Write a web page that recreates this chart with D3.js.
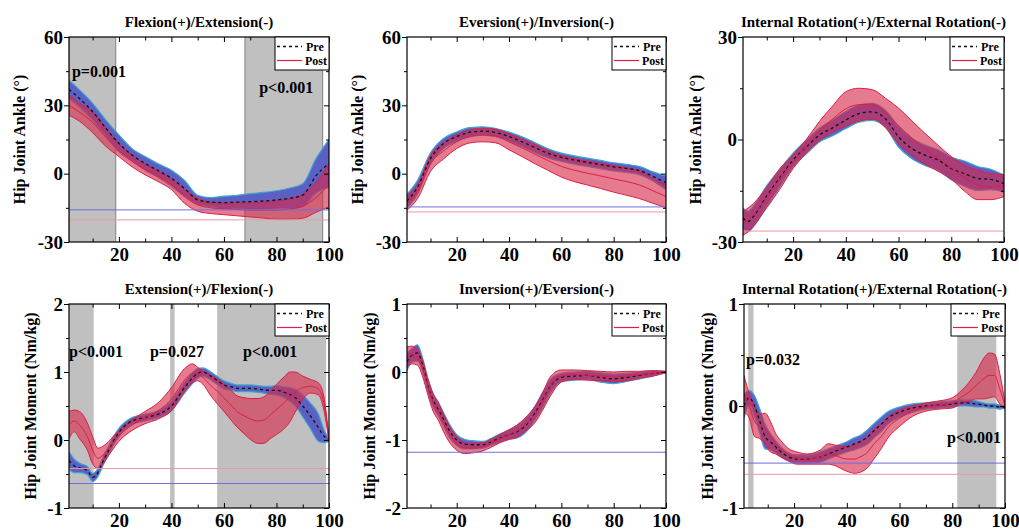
<!DOCTYPE html>
<html><head><meta charset="utf-8">
<script src="https://cdn.jsdelivr.net/npm/d3@7"></script>
<style>
body{margin:0;background:#fff}
text{font-family:"Liberation Serif","Times New Roman",serif;font-weight:bold;fill:#000}
</style>
</head><body>
<svg id="c" width="1019" height="531"></svg>
<script>
// ---------- DATA ----------
const xTickLabels = [20, 40, 60, 80, 100];
const xMinorTicks = [10, 30, 50, 70, 90];

const xsAngle = [1,5,10,15,20,25,30,35,40,45,50,55,60,65,70,75,80,85,90,95,100];

// Flexion(+)/Extension(-) angle
const flexPreMean  = [37,33,27.2,20,13.3,8.2,4.5,1.3,-2,-6.5,-11.5,-12.5,-12.7,-12.5,-12.3,-12,-11.5,-10.8,-9.4,-1,4.5];
const flexPreSd    = [4,3.8,3.7,3.6,3.7,2.8,3,3,3.5,3.5,2,2,2.8,3,3.5,3.8,4,4.5,5,7.5,10.5];
const flexPostMean = [30,27,22.5,16,10.3,5.5,1.8,-1.2,-4.7,-10,-13.7,-15,-15.5,-15.7,-16,-16,-16,-15.5,-14.3,-10.5,-5];
const flexPostSd   = [4.4,4,4.5,4,2.8,2.5,2.3,2.3,2.3,3,2.8,2.5,2.5,2.8,3,3.5,4,4.5,5.3,6.5,9.5];

// Eversion(+)/Inversion(-) angle
const evPreMean  = [-12,-6,6.7,13.3,16.3,18.2,18.7,18,16.3,14,11.4,8.9,7.2,6,5,4,3,2.3,1.3,-1.2,-4];
const evPreSd    = [3,3,2.5,2.2,2,2,1.8,1.8,2,2.2,2.2,2,1.8,1.8,1.8,1.8,1.8,1.8,1.8,2,3];
const evPostMean = [-13,-8,4.5,10,14,16.3,17,16.5,14,11.3,8.5,5.7,3.2,1.5,0.2,-1,-2.3,-3.5,-5,-7.5,-10];
const evPostSd   = [3,3,3.5,3.5,3,2.8,3,3,3.5,3.8,4.2,4.3,4.7,5,5.2,5.5,5.8,6,6,5.5,5];

// Internal/External rotation angle
const xsRot = [1,3,5,10,15,20,25,30,35,40,45,50,55,60,65,70,75,80,85,90,95,100];
const rotPreMean  = [-23,-24,-22.5,-16.5,-11.2,-6,-2.2,1.3,3.4,5.7,7.6,8.1,6.1,0.8,-2.6,-4.6,-6,-8.5,-10,-11.4,-11.7,-12.9];
const rotPreSd    = [3,3,3,3,2.5,2,2,2,2.3,2.5,2.5,2.5,2.5,3,3,3,3,3.3,3.7,3.5,3,2.5];
const rotPostMean = [-24.5,-23.5,-22,-17,-11.5,-6.5,-2,2.5,6,9,10.2,10.3,7.8,4,0.5,-2.7,-5.5,-8.3,-11.3,-13.3,-13.8,-13.5];
const rotPostSd   = [3.5,3.5,3.3,3,3,2,2,2.8,3.8,5,4.8,4.3,4.3,5.2,5,4.5,3.8,3.3,3.8,4.3,3.8,3.2];

// Extension(+)/Flexion(-) moment
const xsExt = [1,3,5,8,10,12,14,16,18,20,25,30,35,40,45,48,50,52,55,58,60,63,65,68,70,73,75,78,80,83,85,87,90,93,96,98,100];
const extPreMean  = [-0.3,-0.38,-0.41,-0.45,-0.55,-0.48,-0.31,-0.16,-0.01,0.11,0.28,0.33,0.38,0.5,0.77,0.91,0.98,1.0,0.94,0.86,0.81,0.78,0.76,0.76,0.76,0.75,0.74,0.73,0.73,0.7,0.67,0.63,0.5,0.35,0.18,0.06,0.0];
const extPreSd    = [0.13,0.1,0.07,0.06,0.06,0.06,0.06,0.06,0.06,0.06,0.05,0.05,0.05,0.07,0.08,0.08,0.07,0.06,0.06,0.06,0.06,0.05,0.05,0.05,0.05,0.05,0.05,0.06,0.07,0.08,0.1,0.12,0.16,0.19,0.2,0.1,0.02];
const extPostMean = [0.22,0.28,0.22,0.05,-0.15,-0.27,-0.22,-0.13,-0.03,0.06,0.22,0.33,0.43,0.6,0.88,0.98,0.97,0.92,0.8,0.7,0.62,0.5,0.42,0.35,0.31,0.28,0.29,0.38,0.45,0.55,0.63,0.7,0.77,0.79,0.75,0.55,0.0];
const extPostSd   = [0.2,0.16,0.2,0.2,0.2,0.15,0.13,0.1,0.09,0.08,0.08,0.09,0.12,0.17,0.17,0.14,0.1,0.1,0.15,0.19,0.2,0.22,0.23,0.27,0.3,0.33,0.34,0.35,0.37,0.38,0.37,0.3,0.17,0.1,0.09,0.1,0.03];

// Inversion(+)/Eversion(-) moment
const xsInv = [1,3,5,7,9,11,13,15,17,20,23,26,30,33,36,40,43,46,50,53,56,60,65,70,75,80,85,90,95,100];
const invPreMean  = [0.15,0.25,0.28,0.1,-0.2,-0.42,-0.55,-0.7,-0.85,-1.0,-1.06,-1.07,-1.07,-1.03,-0.98,-0.92,-0.88,-0.8,-0.6,-0.4,-0.2,-0.08,-0.06,-0.05,-0.08,-0.1,-0.08,-0.05,-0.02,0.0];
const invPreSd    = [0.13,0.1,0.12,0.1,0.1,0.1,0.1,0.1,0.1,0.08,0.07,0.06,0.05,0.05,0.06,0.07,0.09,0.1,0.1,0.11,0.1,0.06,0.06,0.06,0.07,0.07,0.06,0.05,0.04,0.01];
const invPostMean = [0.22,0.25,0.22,0.05,-0.22,-0.45,-0.58,-0.75,-0.9,-1.05,-1.12,-1.12,-1.1,-1.05,-0.99,-0.92,-0.87,-0.78,-0.62,-0.42,-0.2,-0.06,-0.04,-0.05,-0.06,-0.07,-0.06,-0.04,-0.02,0.0];
const invPostSd   = [0.15,0.13,0.12,0.12,0.12,0.13,0.13,0.13,0.12,0.1,0.08,0.07,0.06,0.06,0.06,0.07,0.09,0.1,0.12,0.13,0.14,0.09,0.07,0.07,0.07,0.07,0.07,0.05,0.04,0.01];

// Internal/External rotation moment
const xsRm = [1,3,5,7,9,11,13,15,18,21,25,30,33,35,40,43,45,48,50,53,56,60,65,70,75,80,83,86,89,92,94,96,98,100];
const rmPreMean  = [0.0,0.08,0.0,-0.15,-0.3,-0.35,-0.4,-0.45,-0.5,-0.52,-0.52,-0.5,-0.47,-0.45,-0.4,-0.37,-0.35,-0.3,-0.25,-0.18,-0.11,-0.06,-0.02,0.0,0.01,0.02,0.03,0.03,0.02,0.01,0.0,0.0,-0.01,-0.01];
const rmPreSd    = [0.12,0.07,0.1,0.12,0.12,0.08,0.06,0.05,0.04,0.04,0.04,0.05,0.05,0.05,0.05,0.06,0.06,0.07,0.07,0.07,0.06,0.05,0.04,0.03,0.03,0.03,0.03,0.03,0.03,0.02,0.02,0.02,0.02,0.01];
const rmPostMean = [0.12,0.0,-0.15,-0.2,-0.22,-0.3,-0.37,-0.42,-0.48,-0.51,-0.52,-0.5,-0.47,-0.48,-0.52,-0.52,-0.5,-0.45,-0.38,-0.3,-0.2,-0.12,-0.05,-0.01,0.01,0.03,0.08,0.13,0.2,0.27,0.3,0.3,0.17,0.0];
const rmPostSd   = [0.18,0.12,0.15,0.12,0.15,0.15,0.1,0.08,0.06,0.06,0.05,0.07,0.1,0.1,0.12,0.14,0.15,0.15,0.15,0.12,0.1,0.08,0.05,0.04,0.04,0.05,0.06,0.09,0.13,0.2,0.22,0.21,0.15,0.03];

// ---------- PANELS ----------
const panels = [
  {title:"Flexion(+)/Extension(-)", ylabel:"Hip Joint Ankle (°)", left:69, right:329, top:37, bottom:242, ylabX:19,
   yDomain:[-30,60], yTicks:[-30,0,30,60], yMinor:[-15,15,45],
   xs:xsAngle, preM:flexPreMean, preS:flexPreSd, postM:flexPostMean, postS:flexPostSd,
   shade:[[1,18.8],[68,97.6]], shadeEdge:true, thrBlue:-15.9, thrPink:-20.3,
   pl:[{t:"p=0.001",x:2.1,y:42.4},{t:"p<0.001",x:73.4,y:35.4}]},
  {title:"Eversion(+)/Inversion(-)", ylabel:"Hip Joint Ankle (°)", left:407, right:666, top:37, bottom:242, ylabX:357,
   yDomain:[-30,60], yTicks:[-30,0,30,60], yMinor:[-15,15,45],
   xs:xsAngle, preM:evPreMean, preS:evPreSd, postM:evPostMean, postS:evPostSd,
   shade:[], thrBlue:-14.6, thrPink:-16.8, pl:[]},
  {title:"Internal Rotation(+)/External Rotation(-)", ylabel:"Hip Joint Ankle (°)", left:743, right:1004, top:37, bottom:242, ylabX:695,
   yDomain:[-30,30], yTicks:[-30,0,30], yMinor:[-15,15],
   xs:xsRot, preM:rotPreMean, preS:rotPreSd, postM:rotPostMean, postS:rotPostSd,
   shade:[], thrBlue:null, thrPink:-26.8, pl:[]},
  {title:"Extension(+)/Flexion(-)", ylabel:"Hip Joint Moment (Nm/kg)", left:69, right:329, top:304, bottom:508, ylabX:30,
   yDomain:[-1,2], yTicks:[-1,0,1,2], yMinor:[-0.5,0.5,1.5],
   xs:xsExt, preM:extPreMean, preS:extPreSd, postM:extPostMean, postS:extPostSd,
   shade:[[1,10.4],[39.5,41.2],[57.4,98.9]], thrBlue:-0.64, thrPink:-0.42,
   pl:[{t:"p<0.001",x:1,y:1.22},{t:"p=0.027",x:31.8,y:1.22},{t:"p<0.001",x:67.3,y:1.22}]},
  {title:"Inversion(+)/Eversion(-)", ylabel:"Hip Joint Moment (Nm/kg)", left:407, right:666, top:304, bottom:508, ylabX:369,
   yDomain:[-2,1], yTicks:[-2,-1,0,1], yMinor:[-1.5,-0.5,0.5],
   xs:xsInv, preM:invPreMean, preS:invPreSd, postM:invPostMean, postS:invPostSd,
   shade:[], thrBlue:-1.18, thrPink:null, pl:[]},
  {title:"Internal Rotation(+)/External Rotation(-)", ylabel:"Hip Joint Moment (Nm/kg)", left:744, right:1005, top:304, bottom:508, ylabX:707,
   yDomain:[-1,1], yTicks:[-1,0,1], yMinor:[-0.5,0.5],
   xs:xsRm, preM:rmPreMean, preS:rmPreSd, postM:rmPostMean, postS:rmPostSd,
   shade:[[2.6,4.6],[81.9,96.7]], thrBlue:-0.56, thrPink:-0.67,
   pl:[{t:"p=0.032",x:1.8,y:0.40},{t:"p<0.001",x:78,y:-0.36}]}
];

const svg = d3.select("#c");
const preFill = "rgb(92,96,196)", preEdge = "rgb(64,165,205)";
const postFill = "rgba(215,40,75,0.62)", postEdge = "rgb(222,30,68)";
const fmt = d => String(d);

panels.forEach((p, k) => {
  const x = d3.scaleLinear().domain([1,100]).range([p.left, p.right]);
  const y = d3.scaleLinear().domain(p.yDomain).range([p.bottom, p.top]);
  const g = svg.append("g");
  const cid = "clip" + k;
  g.append("clipPath").attr("id", cid).append("rect")
    .attr("x", p.left).attr("y", p.top).attr("width", p.right - p.left).attr("height", p.bottom - p.top);
  const pg = g.append("g").attr("clip-path", `url(#${cid})`);

  // shaded significance regions
  p.shade.forEach(s => {
    pg.append("rect").attr("x", x(s[0])).attr("y", p.top)
      .attr("width", x(s[1]) - x(s[0])).attr("height", p.bottom - p.top)
      .attr("fill", "#c0c0c0");
    if (p.shadeEdge) {
      [s[0], s[1]].forEach(v => pg.append("line").attr("x1", x(v)).attr("x2", x(v))
        .attr("y1", p.top).attr("y2", p.bottom).attr("stroke", "#808080").attr("stroke-width", 1));
    }
  });

  const idx = d3.range(p.xs.length);
  const band = (m, s) => d3.area().curve(d3.curveMonotoneX)
    .x(i => x(p.xs[i])).y0(i => y(m[i] - s[i])).y1(i => y(m[i] + s[i]));
  const ln = f => d3.line().curve(d3.curveMonotoneX).x(i => x(p.xs[i])).y(f);

  // pre band
  pg.append("path").datum(idx).attr("d", band(p.preM, p.preS)).attr("fill", preFill);
  pg.append("path").datum(idx).attr("d", ln(i => y(p.preM[i] + p.preS[i]))).attr("fill", "none").attr("stroke", preEdge).attr("stroke-width", 1.2);
  pg.append("path").datum(idx).attr("d", ln(i => y(p.preM[i] - p.preS[i]))).attr("fill", "none").attr("stroke", preEdge).attr("stroke-width", 1.2);
  // post band
  pg.append("path").datum(idx).attr("d", band(p.postM, p.postS)).attr("fill", postFill);
  pg.append("path").datum(idx).attr("d", ln(i => y(p.postM[i] + p.postS[i]))).attr("fill", "none").attr("stroke", postEdge).attr("stroke-width", 1);
  pg.append("path").datum(idx).attr("d", ln(i => y(p.postM[i] - p.postS[i]))).attr("fill", "none").attr("stroke", postEdge).attr("stroke-width", 1);
  // means
  pg.append("path").datum(idx).attr("d", ln(i => y(p.preM[i]))).attr("fill", "none")
    .attr("stroke", "#111").attr("stroke-width", 1.3).attr("stroke-dasharray", "3,3");
  pg.append("path").datum(idx).attr("d", ln(i => y(p.postM[i]))).attr("fill", "none")
    .attr("stroke", postEdge).attr("stroke-width", 1);

  // threshold lines
  if (p.thrBlue !== null) pg.append("line").attr("x1", p.left).attr("x2", p.right)
    .attr("y1", y(p.thrBlue)).attr("y2", y(p.thrBlue)).attr("stroke", "rgb(110,110,225)").attr("stroke-width", 1);
  if (p.thrPink !== null) pg.append("line").attr("x1", p.left).attr("x2", p.right)
    .attr("y1", y(p.thrPink)).attr("y2", y(p.thrPink)).attr("stroke", "rgb(235,150,165)").attr("stroke-width", 1);

  // axes
  const styleAxis = sel => { sel.select(".domain").remove(); sel.selectAll("line").attr("stroke", "#000").attr("stroke-width", 1); };
  g.append("g").attr("transform", `translate(0,${p.bottom})`)
    .call(d3.axisBottom(x).tickValues(xTickLabels).tickSize(-5).tickPadding(6).tickFormat(fmt))
    .call(styleAxis).selectAll("text").attr("font-size", 19).style("font-family", '"Liberation Serif",serif').style("font-weight", "bold");
  g.append("g").attr("transform", `translate(0,${p.bottom})`)
    .call(d3.axisBottom(x).tickValues(xMinorTicks).tickSize(-3.5).tickFormat(""))
    .call(styleAxis);
  g.append("g").attr("transform", `translate(0,${p.top})`)
    .call(d3.axisTop(x).tickValues(xTickLabels).tickSize(-5).tickFormat(""))
    .call(styleAxis);
  g.append("g").attr("transform", `translate(0,${p.top})`)
    .call(d3.axisTop(x).tickValues(xMinorTicks).tickSize(-3.5).tickFormat(""))
    .call(styleAxis);
  g.append("g").attr("transform", `translate(${p.left},0)`)
    .call(d3.axisLeft(y).tickValues(p.yTicks).tickSize(5).tickPadding(1).tickFormat(fmt))
    .call(styleAxis).selectAll("text").attr("font-size", 19).style("font-family", '"Liberation Serif",serif').style("font-weight", "bold");
  g.append("g").attr("transform", `translate(${p.left},0)`)
    .call(d3.axisLeft(y).tickValues(p.yMinor).tickSize(3).tickFormat(""))
    .call(styleAxis);
  g.append("g").attr("transform", `translate(${p.right},0)`)
    .call(d3.axisRight(y).tickValues(p.yTicks).tickSize(-5).tickFormat(""))
    .call(styleAxis);
  g.append("g").attr("transform", `translate(${p.right},0)`)
    .call(d3.axisRight(y).tickValues(p.yMinor).tickSize(-3).tickFormat(""))
    .call(styleAxis);

  // frame
  g.append("rect").attr("x", p.left).attr("y", p.top).attr("width", p.right - p.left).attr("height", p.bottom - p.top)
    .attr("fill", "none").attr("stroke", "#000").attr("stroke-width", 1.2);

  // p-value labels
  p.pl.forEach(l => g.append("text").attr("x", x(l.x)).attr("y", y(l.y)).attr("font-size", 16).text(l.t));

  // title
  g.append("text").attr("x", (p.left + p.right) / 2).attr("y", p.top - 10)
    .attr("text-anchor", "middle").attr("font-size", 15).text(p.title);

  // y label
  g.append("text").attr("transform", `translate(${p.ylabX},${(p.top + p.bottom) / 2}) rotate(-90)`)
    .attr("text-anchor", "middle").attr("dominant-baseline", "central").attr("font-size", 16).text(p.ylabel);

  // legend
  const lw = 54, lh = p.top < 100 ? 33 : 32, lx = p.right - lw, ly = p.top;
  const lg = g.append("g");
  lg.append("rect").attr("x", lx).attr("y", ly).attr("width", lw).attr("height", lh)
    .attr("fill", "#fff").attr("stroke", "#000").attr("stroke-width", 1);
  lg.append("line").attr("x1", lx + 2).attr("x2", lx + 27).attr("y1", ly + 9.5).attr("y2", ly + 9.5)
    .attr("stroke", "#111").attr("stroke-width", 1.3).attr("stroke-dasharray", "3,3");
  lg.append("line").attr("x1", lx + 2).attr("x2", lx + 27).attr("y1", ly + 23.5).attr("y2", ly + 23.5)
    .attr("stroke", postEdge).attr("stroke-width", 1.2);
  lg.append("text").attr("x", lx + 31).attr("y", ly + 13.5).attr("font-size", 12).text("Pre");
  lg.append("text").attr("x", lx + 30).attr("y", ly + 27.5).attr("font-size", 12).text("Post");
});
</script>
</body></html>
